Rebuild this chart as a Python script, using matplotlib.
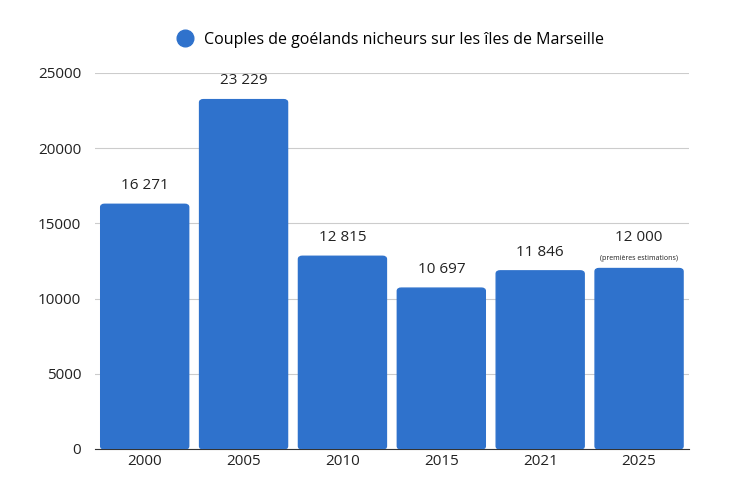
import matplotlib.pyplot as plt
from matplotlib.patches import FancyBboxPatch

plt.rcParams['font.family'] = 'Open Sans'

years = ['2000', '2005', '2010', '2015', '2021', '2025']
couples = [16271, 23229, 12815, 10697, 11846, 12000]
labels = ['16 271', '23 229', '12 815', '10 697', '11 846', '12 000']
color = '#2f72cc'

fig = plt.figure(figsize=(7.5, 5), dpi=100)
ax = fig.add_axes([0.127, 0.102, 0.791, 0.752])

bars = ax.bar(range(len(years)), couples, width=0.89, color=color, zorder=3)
# coins arrondis
for b in bars:
    b.set_visible(False)
    p = FancyBboxPatch((b.get_x(), 0), b.get_width(), b.get_height(),
                       boxstyle='round,pad=0,rounding_size=0.04',
                       mutation_aspect=25000 / 5.2, color=color, zorder=3)
    ax.add_patch(p)

for i, (v, t) in enumerate(zip(couples, labels)):
    off = 1550 if i == 5 else 750
    ax.text(i, v + off, t, ha='center', va='bottom', fontsize=11, color='#222222')
ax.text(5, couples[5] + 450, '(premières estimations)', ha='center', va='bottom',
        fontsize=5, color='#222222')

ax.set_xlim(-0.5, 5.5)
ax.set_ylim(0, 25000)
ax.set_yticks(range(0, 25001, 5000))
ax.set_xticks(range(len(years)))
ax.set_xticklabels(years)
ax.tick_params(axis='both', length=0, labelsize=11, colors='#222222')
ax.tick_params(axis='y', pad=10)
ax.grid(axis='y', color='#cccccc', linewidth=0.8, zorder=0)
for s in ['top', 'right', 'left']:
    ax.spines[s].set_visible(False)
ax.spines['bottom'].set_color('#333333')

fig.legend(handles=[plt.Line2D([], [], marker='o', linestyle='', markersize=12,
                               color=color)],
           labels=['Couples de goélands nicheurs sur les îles de Marseille'],
           loc='center', bbox_to_anchor=(0.515, 0.92), frameon=False,
           fontsize=11.5, handletextpad=0.2)

fig.savefig('out.png')
